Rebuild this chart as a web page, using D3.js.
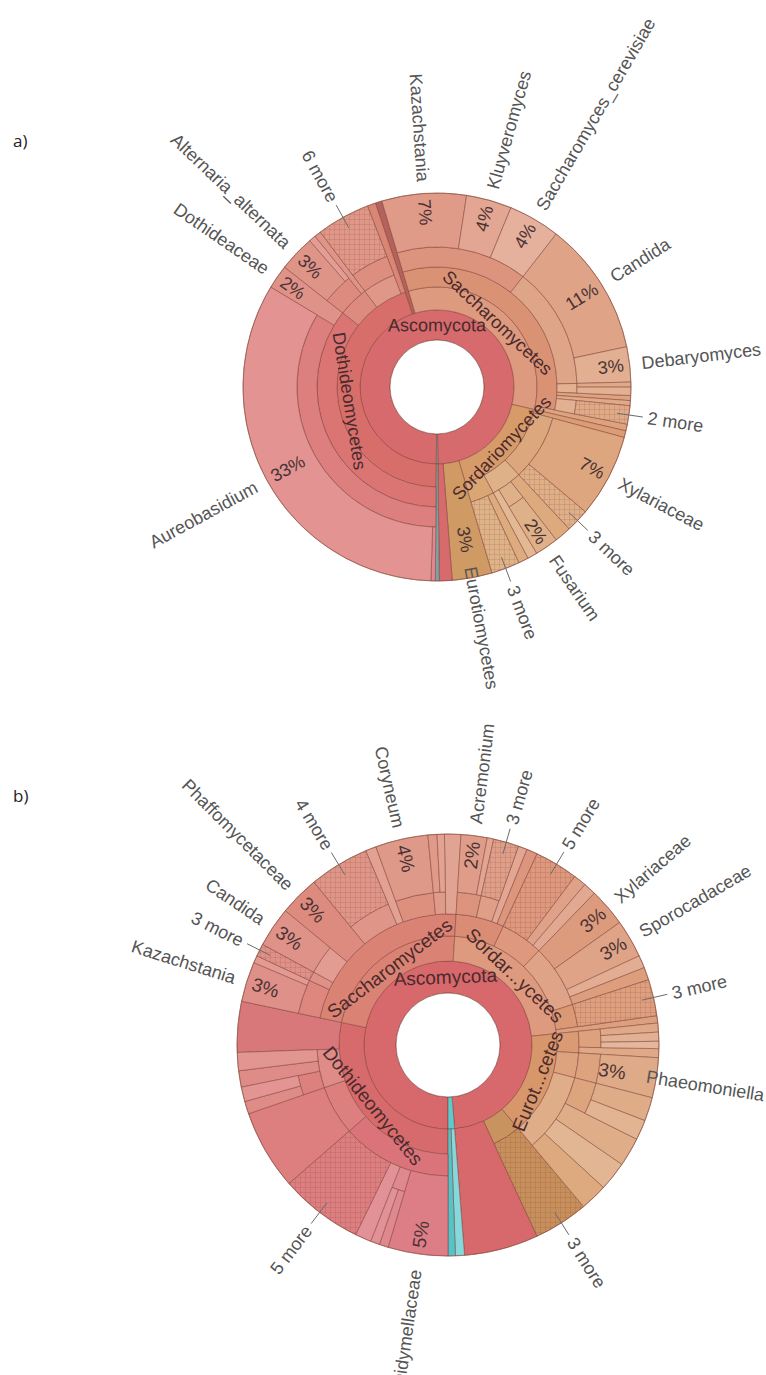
<!DOCTYPE html>
<html>
<head>
<meta charset="utf-8">
<script src="https://cdn.jsdelivr.net/npm/d3@7"></script>
<style>
  body { margin: 0; background: #fff; }
  svg { display: block; }
  text { font-family: "Liberation Sans", Arial, sans-serif; }
</style>
</head>
<body>
<svg id="chart" width="766" height="1375"></svg>
<script>
// ---- data: [taxon, parent, % of reads] (inner ranks carry 0, "~" = unnamed slice, "#n" keeps ids unique)
const treeA = [
  ["Fungi", "", 0],
  ["Ascomycota", "Fungi", 0],
  ["Dothideomycetes", "Ascomycota", 0],
  ["Dothideales", "Dothideomycetes", 0],
  ["Saccotheciaceae", "Dothideales", 0],
  ["~a1", "Saccotheciaceae", 0.36],
  ["Aureobasidium", "Saccotheciaceae", 33.11],
  ["Dothideaceae", "Dothideales", 2.0],
  ["Pleosporales", "Dothideomycetes", 0],
  ["Pleosporaceae", "Pleosporales", 0],
  ["Alternaria_alternata", "Pleosporaceae", 3.0],
  ["~a2", "Pleosporaceae", 0.56],
  ["~a3", "Pleosporales", 0.56],
  ["~a4", "Dothideomycetes", 0],
  ["~a5", "~a4", 0],
  ["6 more", "~a5", 4.44],
  ["~a6", "Dothideomycetes", 0.69],
  ["~a7", "Ascomycota", 0.56],
  ["Saccharomycetes", "Ascomycota", 0],
  ["Saccharomycetales", "Saccharomycetes", 0],
  ["Saccharomycetaceae", "Saccharomycetales", 0],
  ["Kazachstania", "Saccharomycetaceae", 7.03],
  ["Kluyveromyces", "Saccharomycetaceae", 3.78],
  ["Saccharomyces_cerevisiae", "Saccharomycetaceae", 4.31],
  ["Debaryomycetaceae", "Saccharomycetales", 0],
  ["Candida", "Debaryomycetaceae", 11.14],
  ["Debaryomyces", "Debaryomycetaceae", 2.92],
  ["~a8", "Saccharomycetales", 0],
  ["~a9", "~a8", 0.42],
  ["~a10", "~a8", 0.69],
  ["~a11", "Saccharomycetales", 0.42],
  ["~a12", "Saccharomycetales", 0.42],
  ["~a13", "Saccharomycetales", 0],
  ["2 more", "~a13", 1.53],
  ["~a14", "Saccharomycetes", 0.56],
  ["Sordariomycetes", "Ascomycota", 0],
  ["~a15", "Sordariomycetes", 0.56],
  ["Xylariales", "Sordariomycetes", 0],
  ["Xylariaceae", "Xylariales", 6.94],
  ["3 more#1", "Xylariales", 1.94],
  ["Hypocreales", "Sordariomycetes", 0],
  ["~a16", "Hypocreales", 1.39],
  ["Nectriaceae", "Hypocreales", 0],
  ["Fusarium", "Nectriaceae", 1.94],
  ["~a17", "Hypocreales", 0.83],
  ["~a18", "Sordariomycetes", 0],
  ["~a19", "~a18", 0.83],
  ["3 more#2", "~a18", 2.36],
  ["Eurotiomycetes", "Ascomycota", 3.33],
  ["~a20", "Ascomycota", 1.06],
  ["~a21", "Fungi", 0],
  ["~a22", "~a21", 0.33]
];
const outerA = ["Aureobasidium", "Dothideaceae", "Alternaria_alternata", "6 more", "Kazachstania",
  "Kluyveromyces", "Saccharomyces_cerevisiae", "Candida", "Debaryomyces", "2 more", "Xylariaceae",
  "3 more#1", "Fusarium", "3 more#2", "Eurotiomycetes"];
const pctA = ["Aureobasidium", "Dothideaceae", "Alternaria_alternata", "Kazachstania", "Kluyveromyces",
  "Saccharomyces_cerevisiae", "Candida", "Debaryomyces", "Xylariaceae", "Fusarium", "Eurotiomycetes"];
const innerA = [["Ascomycota", "Ascomycota"], ["Dothideomycetes", "Dothideomycetes"],
  ["Saccharomycetes", "Saccharomycetes"], ["Sordariomycetes", "Sordariomycetes"]];

const treeB = [
  ["Fungi", "", 0],
  ["Ascomycota", "Fungi", 0],
  ["Dothideomycetes", "Ascomycota", 0],
  ["Pleosporales", "Dothideomycetes", 0],
  ["Didymellaceae", "Pleosporales", 4.58],
  ["~b1", "Pleosporales", 0],
  ["~b2", "~b1", 0.69],
  ["~b3", "~b1", 0.69],
  ["~b4", "Pleosporales", 1.25],
  ["5 more#1", "Pleosporales", 6.39],
  ["Capnodiales", "Dothideomycetes", 0],
  ["~b5", "Capnodiales", 6.11],
  ["~b6", "Dothideomycetes", 0],
  ["~b7", "~b6", 0],
  ["~b8", "~b7", 0.97],
  ["~b9", "~b7", 1.11],
  ["~b10", "~b6", 1.25],
  ["~b11", "~b6", 1.39],
  ["~b12", "Dothideomycetes", 3.89],
  ["Saccharomycetes", "Ascomycota", 0],
  ["Saccharomycetales", "Saccharomycetes", 0],
  ["Saccharomycetaceae", "Saccharomycetales", 0],
  ["Kazachstania", "Saccharomycetaceae", 3.06],
  ["~b13", "Saccharomycetaceae", 0.56],
  ["~b14", "Saccharomycetales", 0],
  ["3 more#1", "~b14", 0.97],
  ["Debaryomycetaceae", "Saccharomycetales", 0],
  ["Candida", "Debaryomycetaceae", 3.06],
  ["Phaffomycetaceae", "Saccharomycetales", 3.06],
  ["~b15", "Saccharomycetales", 0],
  ["4 more", "~b15", 4.58],
  ["~b16", "Saccharomycetales", 0.83],
  ["~b17", "Saccharomycetales", 0],
  ["Coryneum", "~b17", 4.03],
  ["~b18", "Saccharomycetales", 0],
  ["~b19", "~b18", 0.69],
  ["~b20", "~b18", 0.56],
  ["~b21", "Saccharomycetales", 1.25],
  ["Sordariomycetes", "Ascomycota", 0],
  ["Hypocreales", "Sordariomycetes", 0],
  ["~b22", "Hypocreales", 0],
  ["Acremonium", "~b22", 2.0],
  ["~b23", "~b22", 0.5],
  ["~b24", "Hypocreales", 0],
  ["3 more#2", "~b24", 1.94],
  ["~b25", "Hypocreales", 0.69],
  ["~b26", "Hypocreales", 0.83],
  ["~b27", "Sordariomycetes", 0],
  ["5 more#2", "~b27", 3.33],
  ["~b28", "~b27", 0.97],
  ["~b29", "~b27", 0.97],
  ["Xylariales", "Sordariomycetes", 0],
  ["Xylariaceae", "Xylariales", 2.92],
  ["Sporocadaceae", "Xylariales", 2.92],
  ["~b30", "Xylariales", 0.97],
  ["~b31", "Xylariales", 0.97],
  ["~b32", "Sordariomycetes", 0],
  ["3 more#3", "~b32", 2.78],
  ["~b33", "Sordariomycetes", 0.56],
  ["Eurotiomycetes", "Ascomycota", 0],
  ["~b34", "Eurotiomycetes", 0],
  ["~b35", "~b34", 0],
  ["~b36", "~b35", 0.69],
  ["~b37", "~b35", 0.69],
  ["~b38", "~b35", 0.56],
  ["~b39", "~b34", 0.69],
  ["Phaeomoniellales", "Eurotiomycetes", 0],
  ["Phaeomoniellaceae", "Phaeomoniellales", 0],
  ["Phaeomoniella", "Phaeomoniellaceae", 3.06],
  ["~b40", "Eurotiomycetes", 0],
  ["~b41", "~b40", 0],
  ["~b42", "~b41", 1.81],
  ["~b43", "~b41", 1.53],
  ["~b44", "~b40", 2.22],
  ["~b45", "~b40", 2.22],
  ["~b46", "~b40", 2.08],
  ["~b47", "Ascomycota", 0],
  ["3 more#4", "~b47", 4.17],
  ["~b48", "Ascomycota", 5.69],
  ["Basidiomycota", "Fungi", 0],
  ["~b49", "Basidiomycota", 0.69],
  ["~b50", "Basidiomycota", 0.56]
];
const outerB = ["Kazachstania", "3 more#1", "Candida", "Phaffomycetaceae", "4 more", "Coryneum",
  "Acremonium", "3 more#2", "5 more#2", "Xylariaceae", "Sporocadaceae", "3 more#3", "Phaeomoniella",
  "3 more#4", "Didymellaceae", "5 more#1"];
const pctB = ["Kazachstania", "Candida", "Phaffomycetaceae", "Coryneum", "Acremonium", "Xylariaceae",
  "Sporocadaceae", "Phaeomoniella", "Didymellaceae"];
const innerB = [["Ascomycota", "Ascomycota"], ["Dothideomycetes", "Dothideomycetes"],
  ["Saccharomycetes", "Saccharomycetes"], ["Sordariomycetes", "Sordar...ycetes"],
  ["Eurotiomycetes", "Eurot...cetes"]];

// ---- styling
const coloursA = {
  "Ascomycota": "#d66a6d", "~a20": "#d66a6d", "~a7": "#b4625c",
  "Eurotiomycetes": "#cf9a64", "~a21": "#7aa3a3", "~a22": "#7aa3a3"
};
const coloursB = {
  "Ascomycota": "#d7686b", "~b48": "#d7686b", "~b12": "#d8787b",
  "~b47": "#c9935f", "3 more#4": "#c78f5c",
  "Basidiomycota": "#5fc9cd", "~b49": "#86d8da", "~b50": "#55c3c8"
};

const svg = d3.select("#chart");
const hatch = svg.append("defs").append("pattern")
  .attr("id", "hatch").attr("patternUnits", "userSpaceOnUse")
  .attr("width", 5).attr("height", 5);
hatch.append("path").attr("d", "M0,2.5H5M2.5,0V5")
  .attr("stroke", "rgba(120,55,45,0.18)").attr("stroke-width", 0.8);

const pt = (a, r) => [r * Math.sin(a), -r * Math.cos(a)];
const deg = a => ((a * 180 / Math.PI) % 360 + 360) % 360;
const shown = id => id.split("#")[0];

function radial(g, a, r, txt, outward, size, fill) {
  const dg = deg(a), right = dg < 180;
  const [x, y] = pt(a, r);
  g.append("text")
    .attr("transform", `translate(${x},${y}) rotate(${right ? dg - 90 : dg + 90})`)
    .attr("text-anchor", right === outward ? "start" : "end")
    .attr("dy", "0.35em")
    .attr("font-size", size)
    .attr("fill", fill)
    .text(txt);
}

function drawKrona(cfg) {
  const g = svg.append("g").attr("transform", `translate(${cfg.cx},${cfg.cy})`);
  const root = d3.stratify().id(d => d[0]).parentId(d => d[1])(cfg.tree)
    .sum(d => d[2]);
  d3.partition().size([2 * Math.PI, 1])(root);

  const off = cfg.start * Math.PI / 180;
  const ring = d3.scaleLinear().domain([1, 2, 3, 4, 5, 6]).range(cfg.rings.concat(cfg.R));
  const hue = d3.scaleLinear().domain([0, 2 * Math.PI]).range([-6, 32]);
  const light = d3.scaleLinear().domain([1, 5]).range([0.63, 0.73]);
  const mid = d => (d.x0 + d.x1) / 2 + off;
  const byId = new Map(root.descendants().map(d => [d.id, d]));

  const colour = d => {
    if (cfg.colours[d.id]) return cfg.colours[d.id];
    const k = d.parent.children.indexOf(d);
    return d3.hsl(hue((d.x0 + d.x1) / 2), 0.58, light(d.depth) + ((k % 3) - 1) * 0.025).formatHex();
  };

  const arc = d3.arc()
    .startAngle(d => d.x0 + off)
    .endAngle(d => d.x1 + off)
    .innerRadius(d => ring(d.depth))
    .outerRadius(d => d.children ? ring(d.depth + 1) : cfg.R);

  const nodes = root.descendants().filter(d => d.depth > 0);

  g.selectAll("path.slice")
    .data(nodes)
    .join("path")
    .attr("class", "slice")
    .attr("d", arc)
    .attr("fill", colour)
    .attr("stroke", "rgba(125,60,50,0.55)")
    .attr("stroke-width", 0.9);

  // collapsed groups are hatched, as Krona does
  g.selectAll("path.more")
    .data(nodes.filter(d => d.id.includes(" more")))
    .join("path")
    .attr("class", "more")
    .attr("d", arc)
    .attr("fill", "url(#hatch)");

  g.append("circle").attr("r", cfg.R).attr("fill", "none")
    .attr("stroke", "rgba(150,85,70,0.6)").attr("stroke-width", 1);
  g.append("circle").attr("r", cfg.rings[0]).attr("fill", "#fff")
    .attr("stroke", "rgba(125,60,50,0.6)").attr("stroke-width", 1);

  // inner rank labels, straight along the tangent
  cfg.inner.forEach(([id, txt]) => {
    const d = byId.get(id), a = mid(d), dg = deg(a);
    const [x, y] = pt(a, (ring(d.depth) + ring(d.depth + 1)) / 2);
    g.append("text")
      .attr("transform", `translate(${x},${y}) rotate(${dg < 90 || dg > 270 ? dg : dg - 180})`)
      .attr("text-anchor", "middle").attr("dy", "0.35em")
      .attr("font-size", cfg.font).attr("fill", "#4a2a2c")
      .text(txt);
  });

  // percentages just inside the rim
  cfg.pct.forEach(id => {
    const d = byId.get(id);
    const p = Math.round(d.value / root.value * 100) + "%";
    radial(g, mid(d), cfg.R - 6 + (cfg.pctShift[id] || 0), p, false, cfg.font, "#4a3334");
  });

  // names outside the rim, "N more" with a leader line
  cfg.outer.forEach(id => {
    const d = byId.get(id), a = mid(d);
    if (id.includes(" more")) {
      const [x1, y1] = pt(a, cfg.R - 12), [x2, y2] = pt(a, cfg.R + 14);
      g.append("line").attr("x1", x1).attr("y1", y1).attr("x2", x2).attr("y2", y2)
        .attr("stroke", "#6b6b6b").attr("stroke-width", 1);
      radial(g, a, cfg.R + 19, shown(id), true, cfg.nameFont, "#555");
    } else {
      radial(g, a, cfg.R + 12 + (cfg.nameShift[id] || 0), shown(id), true, cfg.nameFont, "#555");
    }
  });
}

drawKrona({
  tree: treeA, outer: outerA, pct: pctA, inner: innerA, colours: coloursA,
  cx: 437, cy: 387, R: 194, rings: [47, 77, 100, 120, 140], start: 180.5, font: 18, nameFont: 18,
  pctShift: { "Eurotiomycetes": -20 }, nameShift: { "Eurotiomycetes": -23 }
});
drawKrona({
  tree: treeB, outer: outerB, pct: pctB, inner: innerB, colours: coloursB,
  cx: 448, cy: 1045, R: 211, rings: [52, 84, 109, 131, 153], start: 180, font: 19, nameFont: 18,
  pctShift: { "Phaeomoniella": -25 }, nameShift: { "Phaeomoniella": -22, "Didymellaceae": 4 }
});

svg.append("text").attr("x", 13).attr("y", 147).attr("font-size", 17).attr("fill", "#222")
  .style("font-family", "'Open Sans', sans-serif").text("a)");
svg.append("text").attr("x", 13).attr("y", 802).attr("font-size", 17).attr("fill", "#222")
  .style("font-family", "'Open Sans', sans-serif").text("b)");
</script>
</body>
</html>
